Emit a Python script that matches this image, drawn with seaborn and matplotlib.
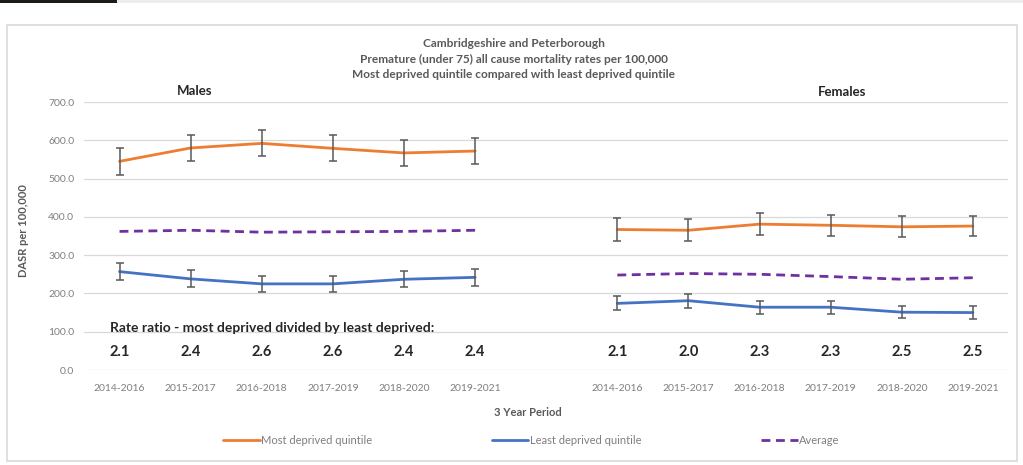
import numpy as np
import pandas as pd
import matplotlib
matplotlib.use("Agg")
import matplotlib.pyplot as plt
import matplotlib.patches as mpatches
from matplotlib.lines import Line2D
import seaborn as sns

# ---------------------------------------------------------------------------
# Data
# ---------------------------------------------------------------------------
periods = ["2014-2016", "2015-2017", "2016-2018", "2017-2019", "2018-2020", "2019-2021"]

male_most = [545, 580, 592, 579, 567, 572]
male_most_err = [35, 35, 34, 34, 34, 34]
male_least = [257, 238, 225, 225, 237, 242]
male_least_err = [23, 22, 21, 21, 21, 22]
male_avg = [362, 365, 360, 361, 362, 365]
male_ratio = ["2.1", "2.4", "2.6", "2.6", "2.4", "2.4"]

female_most = [367, 365, 381, 378, 374, 376]
female_most_err = [29, 29, 28, 28, 27, 27]
female_least = [174, 181, 164, 164, 151, 150]
female_least_err = [18, 18, 17, 17, 16, 16]
female_avg = [248, 252, 250, 244, 237, 241]
female_ratio = ["2.1", "2.0", "2.3", "2.3", "2.5", "2.5"]

# slot positions: males 0-5, empty slot 6, females 7-12
male_pos = np.arange(6)
female_pos = np.arange(7, 13)

C_MOST = "#ED7D31"
C_LEAST = "#4472C4"
C_AVG = "#7030A0"
C_ERR = "#595959"
C_GREY = "#7F7F7F"
AVG_DASH = [3.2, 2]

sns.set_theme(style="white")
plt.rcParams["font.family"] = ["Lato", "DejaVu Sans"]

rows = []
for sex, pos, most, least, avg in [("Males", male_pos, male_most, male_least, male_avg),
                                   ("Females", female_pos, female_most, female_least, female_avg)]:
    for i, p in enumerate(pos):
        rows.append((sex, p, "Most deprived quintile", most[i]))
        rows.append((sex, p, "Least deprived quintile", least[i]))
        rows.append((sex, p, "Average", avg[i]))
df = pd.DataFrame(rows, columns=["Sex", "Pos", "Series", "Rate"])

fig = plt.figure(figsize=(10.23, 4.65), dpi=100)
ax = fig.add_axes([0.0821, 0.2043, 0.9037, 0.5763])

palette = {"Most deprived quintile": C_MOST, "Least deprived quintile": C_LEAST, "Average": C_AVG}
for sex in ["Males", "Females"]:
    sub = df[df["Sex"] == sex]
    for series in ["Most deprived quintile", "Least deprived quintile", "Average"]:
        s = sub[sub["Series"] == series]
        sns.lineplot(data=s, x="Pos", y="Rate", color=palette[series], lw=2,
                     ax=ax, legend=False, zorder=3)
        if series == "Average":
            ax.lines[-1].set_dashes(AVG_DASH)

# error bars
for pos, vals, errs in [(male_pos, male_most, male_most_err), (male_pos, male_least, male_least_err),
                        (female_pos, female_most, female_most_err), (female_pos, female_least, female_least_err)]:
    ax.errorbar(pos, vals, yerr=errs, fmt="none", ecolor=C_ERR, elinewidth=1.1,
                capsize=3, capthick=1.1, zorder=4)

ax.set_xlim(-0.5, 12.5)
ax.set_ylim(0, 700)
ax.set_yticks(np.arange(0, 701, 100))
ax.set_yticklabels([f"{v:.1f}" for v in np.arange(0, 701, 100)], color=C_GREY, fontsize=7.5)
ax.set_xticks(list(male_pos) + list(female_pos))
ax.set_xticklabels(periods + periods, color=C_GREY, fontsize=7.5)
ax.tick_params(axis="x", length=0, pad=10)
ax.tick_params(axis="y", length=0, pad=7)
ax.grid(axis="y", color="#D9D9D9", lw=0.9)
ax.set_axisbelow(True)
for sp in ax.spines.values():
    sp.set_visible(False)
ax.set_xlabel("")
ax.set_ylabel("DASR per 100,000", fontsize=8, fontweight="bold", color="#595959")
ax.yaxis.set_label_coords(-0.059, 0.52)

# rate ratio text
ax.text(-0.14, 110, "Rate ratio - most deprived divided by least deprived:", fontsize=10,
        fontweight="bold", color="#262626", va="center", ha="left")
for pos, labels in [(male_pos, male_ratio), (female_pos, female_ratio)]:
    for p, lab in zip(pos, labels):
        ax.text(p, 48, lab, fontsize=10.5, fontweight="bold", color="#262626", ha="center", va="center")

# panel titles
ax.text(1.05, 730, "Males", fontsize=9.5, fontweight="bold", color="#262626", ha="center", va="center")
ax.text(10.16, 725, "Females", fontsize=9.5, fontweight="bold", color="#262626", ha="center", va="center")

# title block
for y, t in [(43, "Cambridgeshire and Peterborough"),
             (59, "Premature (under 75) all cause mortality rates per 100,000"),
             (75, "Most deprived quintile compared with least deprived quintile")]:
    fig.text(514 / 1023, 1 - y / 465, t, fontsize=8.6, fontweight="bold", color="#595959",
             ha="center", va="center")

fig.text(528 / 1023, 1 - 412 / 465, "3 Year Period", fontsize=8, fontweight="bold",
         color="#595959", ha="center", va="center")

handles = [Line2D([], [], color=C_MOST, lw=2),
           Line2D([], [], color=C_LEAST, lw=2),
           Line2D([], [], color=C_AVG, lw=2, dashes=AVG_DASH)]
fig.legend(handles, ["Most deprived quintile", "Least deprived quintile", "Average"],
           loc="center", bbox_to_anchor=(531 / 1023, 1 - 440 / 465), ncol=3, frameon=False,
           fontsize=8, handlelength=3.3, handletextpad=0.1, columnspacing=10.8,
           labelcolor=C_GREY)

# outer chart border and screenshot strip
fig.patches.append(mpatches.Rectangle((7 / 1023, 1 - 461 / 465), 1010 / 1023, 436 / 465,
                                      transform=fig.transFigure, fill=False,
                                      edgecolor="#D9D9D9", lw=1.2))
fig.patches.append(mpatches.Rectangle((0, 1 - 3 / 465), 1, 3 / 465, transform=fig.transFigure,
                                      color="#EDEDED", lw=0))
fig.patches.append(mpatches.Rectangle((0, 1 - 3 / 465), 117 / 1023, 3 / 465,
                                      transform=fig.transFigure, color="#1E1A18", lw=0))

fig.savefig("out.png", dpi=100)
plt.close(fig)
